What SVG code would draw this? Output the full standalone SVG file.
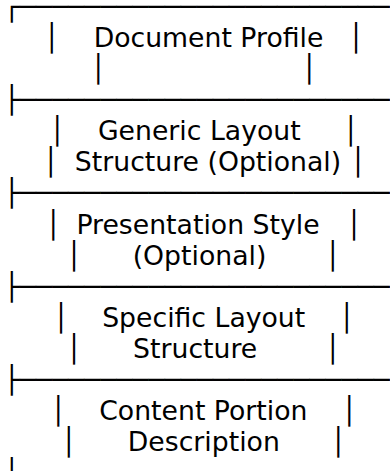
<svg xmlns="http://www.w3.org/2000/svg" width="390" height="471" viewBox="0 0 390 471">
<style>
text{font-family:"DejaVu Sans",sans-serif;font-size:26.7px;fill:#000}
.c{text-anchor:middle}
</style>
<rect width="390" height="471" fill="#fff"/>
<g id="connectors">
<text x="3.7" y="15.8" textLength="386" lengthAdjust="spacingAndGlyphs">┌───────────────────────</text>
<text x="3.7" y="109.1" textLength="386" lengthAdjust="spacingAndGlyphs">├───────────────────────</text>
<text x="3.7" y="202.4" textLength="386" lengthAdjust="spacingAndGlyphs">├───────────────────────</text>
<text x="3.7" y="295.7" textLength="386" lengthAdjust="spacingAndGlyphs">├───────────────────────</text>
<text x="3.7" y="389" textLength="386" lengthAdjust="spacingAndGlyphs">├───────────────────────</text>
<text x="3.7" y="482.3">│</text>
</g>
<g id="document-profile">
<text y="46.9"><tspan class="c" x="51.7">│</tspan><tspan class="c" x="208.5">Document Profile</tspan><tspan class="c" x="356">│</tspan></text>
<text y="78"><tspan class="c" x="98.3">│</tspan><tspan class="c" x="309.3">│</tspan></text>
</g>
<g id="generic-layout-structure">
<text y="140.2"><tspan class="c" x="57.3">│</tspan><tspan class="c" x="199.3">Generic Layout</tspan><tspan class="c" x="350.7">│</tspan></text>
<text y="171.3"><tspan class="c" x="50.7">│</tspan><tspan class="c" x="208">Structure (Optional)</tspan><tspan class="c" x="358">│</tspan></text>
</g>
<g id="presentation-style">
<text y="233.5"><tspan class="c" x="53.3">│</tspan><tspan class="c" x="198">Presentation Style</tspan><tspan class="c" x="354">│</tspan></text>
<text y="264.6"><tspan class="c" x="74">│</tspan><tspan class="c" x="199.5">(Optional)</tspan><tspan class="c" x="332.7">│</tspan></text>
</g>
<g id="specific-layout-structure">
<text y="326.8"><tspan class="c" x="61">│</tspan><tspan class="c" x="203.7">Specific Layout</tspan><tspan class="c" x="346.7">│</tspan></text>
<text y="357.9"><tspan class="c" x="74">│</tspan><tspan class="c" x="195.2">Structure</tspan><tspan class="c" x="332.7">│</tspan></text>
</g>
<g id="content-portion-description">
<text y="420.1"><tspan class="c" x="58.3">│</tspan><tspan class="c" x="203.3">Content Portion</tspan><tspan class="c" x="349.3">│</tspan></text>
<text y="451.2"><tspan class="c" x="68.8">│</tspan><tspan class="c" x="203.8">Description</tspan><tspan class="c" x="338.3">│</tspan></text>
</g>
</svg>
